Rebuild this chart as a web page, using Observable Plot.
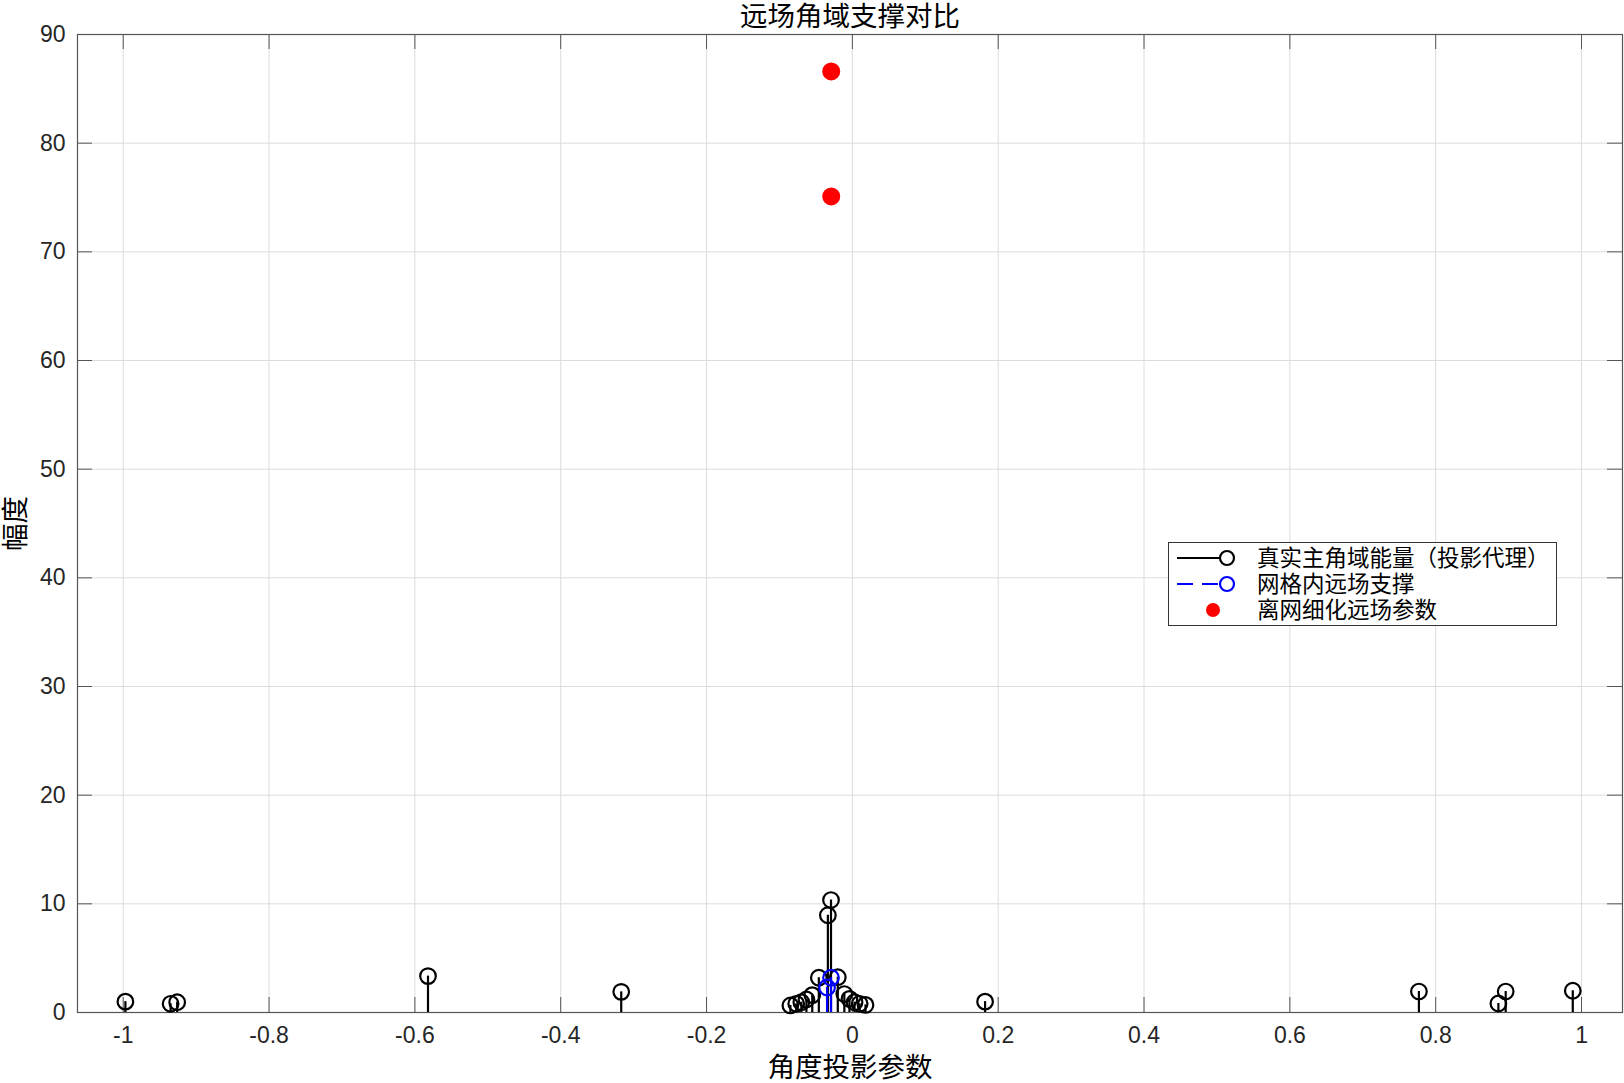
<!DOCTYPE html>
<html>
<head>
<meta charset="utf-8">
<script src="https://cdn.jsdelivr.net/npm/d3@7"></script>
<script src="https://cdn.jsdelivr.net/npm/@observablehq/plot@0.6"></script>
<style>
  html, body { margin: 0; padding: 0; background: #fff; }
  #wrap { position: relative; width: 1624px; height: 1083px; font-family: "Liberation Sans", "Noto Sans CJK SC", sans-serif; }
  #legend { position: absolute; left: 1168px; top: 542px; width: 389px; height: 84px; border: 1px solid #333; background: #fff; box-sizing: border-box; }
</style>
</head>
<body>
<div id="wrap"></div>
<script>
// ---- data ----
const titleText = "远场角域支撑对比";
const xLabel = "角度投影参数";
const yLabel = "幅度";
const legendLabels = ["真实主角域能量（投影代理）", "网格内远场支撑", "离网细化远场参数"];

const trueX = [-0.997, -0.935, -0.926, -0.582, -0.317, -0.085, -0.077, -0.070, -0.063, -0.055, -0.046, -0.0336, -0.0293, -0.020, -0.011, -0.004, 0.003, 0.010, 0.018, 0.182, 0.777, 0.886, 0.896, 0.988];
const trueY = [1.0, 0.8, 0.95, 3.35, 1.9, 0.65, 0.8, 0.95, 1.2, 1.6, 3.2, 8.95, 10.35, 3.25, 1.7, 1.25, 0.95, 0.8, 0.7, 1.0, 1.93, 0.83, 1.93, 2.0];

const gridX = [-0.0347, -0.0293];
const gridY = [2.3, 3.2];

const offX = [-0.029, -0.029];
const offY = [86.6, 75.1];

const xTicks = [-1, -0.8, -0.6, -0.4, -0.2, 0, 0.2, 0.4, 0.6, 0.8, 1];
const yTicks = [0, 10, 20, 30, 40, 50, 60, 70, 80, 90];
const xDomain = [-1.0627, 1.0562];
const yDomain = [0, 90];

// ---- build ----
const trueData = trueX.map((x, i) => ({x, y: trueY[i]}));
const gridData = gridX.map((x, i) => ({x, y: gridY[i]}));
const offData = offX.map((x, i) => ({x, y: offY[i]}));

const W = 1624, H = 1083;
const mL = 77, mR = 2, mT = 34, mB = 71;
const frameH = H - mT - mB, frameW = W - mL - mR;
const tickLen = 15;
const axisColor = "#555";
const fontStack = '"Liberation Sans", "Noto Sans CJK SC", sans-serif';
const fmt = d => d === 0 ? "0" : String(+d.toFixed(1)).replace("\u2212", "-");

const chart = Plot.plot({
  width: W, height: H,
  marginLeft: mL, marginRight: mR, marginTop: mT, marginBottom: mB,
  style: {fontFamily: fontStack, color: "#262626", background: "#fff"},
  x: {domain: xDomain, ticks: xTicks, tickFormat: fmt, label: null},
  y: {domain: yDomain, ticks: yTicks, tickFormat: fmt, label: null},
  marks: [
    Plot.gridX(xTicks, {stroke: "#dcdcdc", strokeOpacity: 1}),
    Plot.gridY(yTicks, {stroke: "#dcdcdc", strokeOpacity: 1}),
    Plot.axisX(xTicks, {tickSize: 0, tickPadding: 14, fontSize: 23, tickFormat: fmt, fill: "#262626"}),
    Plot.axisY(yTicks, {tickSize: 0, tickPadding: 12, fontSize: 23, tickFormat: fmt, fill: "#262626"}),
    // inward ticks
    Plot.ruleX(xTicks, {x: d => d, insetTop: frameH - tickLen, stroke: axisColor}),
    Plot.ruleX(xTicks, {x: d => d, insetBottom: frameH - tickLen, stroke: axisColor}),
    Plot.ruleY(yTicks, {y: d => d, insetRight: frameW - tickLen, stroke: axisColor}),
    Plot.ruleY(yTicks, {y: d => d, insetLeft: frameW - tickLen, stroke: axisColor}),
    Plot.frame({stroke: axisColor, strokeWidth: 1.2}),
    // true stems
    Plot.ruleX(trueData, {x: "x", y1: 0, y2: "y", stroke: "black", strokeWidth: 2.2}),
    Plot.dot(trueData, {x: "x", y: "y", r: 7.8, stroke: "black", strokeWidth: 2.2, fill: "none"}),
    // grid stems
    Plot.ruleX(gridData, {x: "x", y1: 0, y2: "y", stroke: "#0000ff", strokeWidth: 2.2}),
    Plot.dot(gridData, {x: "x", y: "y", r: 7.8, stroke: "#0000ff", strokeWidth: 2.2, fill: "none"}),
    // off-grid
    Plot.dot(offData, {x: "x", y: "y", r: 9, fill: "#ff0000", stroke: "none"}),
    // title and labels
    Plot.text([titleText], {frameAnchor: "top", dy: -17, fontSize: 27.5, fill: "#000", lineAnchor: "middle", textAnchor: "middle"}),
    Plot.text([xLabel], {frameAnchor: "bottom", dy: 56, fontSize: 27.5, fill: "#000", lineAnchor: "middle", textAnchor: "middle"}),
    Plot.text([yLabel], {frameAnchor: "left", dx: -61, rotate: -90, fontSize: 27.5, fill: "#000", lineAnchor: "middle", textAnchor: "middle"})
  ]
});

const wrap = document.getElementById("wrap");
wrap.appendChild(chart);

// legend
const leg = document.createElement("div");
leg.id = "legend";
const rowsY = [16, 42, 68];
let svg = `<svg width="389" height="84" xmlns="http://www.w3.org/2000/svg" style="position:absolute;left:-1px;top:-1px">`;
svg += `<line x1="9" x2="51" y1="${rowsY[0]}" y2="${rowsY[0]}" stroke="black" stroke-width="2.2"/>`;
svg += `<circle cx="59" cy="${rowsY[0]}" r="7" fill="none" stroke="black" stroke-width="2.2"/>`;
svg += `<line x1="9" x2="52" y1="${rowsY[1]}" y2="${rowsY[1]}" stroke="#0000ff" stroke-width="2.2" stroke-dasharray="16,9"/>`;
svg += `<circle cx="59" cy="${rowsY[1]}" r="7" fill="none" stroke="#0000ff" stroke-width="2.2"/>`;
svg += `<circle cx="45" cy="${rowsY[2]}" r="7" fill="#ff0000"/>`;
legendLabels.forEach((t, i) => {
  svg += `<text x="89" y="${rowsY[i]}" dominant-baseline="central" font-size="22.5" fill="#000" font-family='${fontStack}'>${t}</text>`;
});
svg += `</svg>`;
leg.innerHTML = svg;
wrap.appendChild(leg);
</script>
</body>
</html>
